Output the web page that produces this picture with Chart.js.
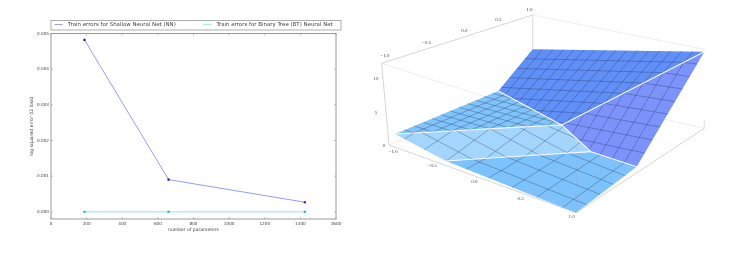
<!DOCTYPE html>
<html>
<head>
<meta charset="utf-8">
<title>Train errors and surface</title>
<script src="https://cdn.jsdelivr.net/npm/chart.js@4"></script>
<style>
    html, body { margin: 0; padding: 0; background: #fff; overflow: hidden; }
    canvas { position: absolute; top: 0; filter: blur(0.35px); }
    #errorChart { left: 0; }
    #surfaceChart { left: 370px; }
</style>
</head>
<body>
<canvas id="errorChart" width="360" height="253"></canvas>
<canvas id="surfaceChart" width="377" height="253"></canvas>
<script>
// LEFT CHART DATA ------------------------------------------------------------
const paramCounts = [188, 660, 1425];
const shallowErrors = [0.00482, 0.000905, 0.00027];
const treeErrors = [0.000002, 0.000002, 0.000002];
const xTicks = [0, 200, 400, 600, 800, 1000, 1200, 1400, 1600];
const yTicks = [0, 0.001, 0.002, 0.003, 0.004, 0.005];
const legendLabels = ['Train errors for Shallow Neural Net (NN)', 'Train errors for Binary Tree (BT) Neural Net'];

// SURFACE DATA (x, y pairs, 3 units per pixel) -------------------------------
const farPlane = [488,148, 1003,155, 575,375, 385,273];
const slopePlane = [1003,155, 800,500, 663,455, 575,375];
const upperFlat = [75,402, 385,273, 575,375, 417,383, 246,393];
const middleStrip = [75,402, 246,393, 417,383, 575,375, 663,455, 408,471, 228,483];
const lowerFlat = [228,483, 408,471, 663,455, 800,500, 618,638];

const foldLines = [
    [385,273, 575,375, 663,455, 800,500],
    [575,375, 1003,155],
    [75,402, 246,393, 417,383, 575,375],
    [228,483, 408,471, 663,455]
];

// dense mesh on the upper facets
const uMesh = [
    [132,399, 405,284, 518,148],
    [189,396, 425,295, 549,149],
    [246,393, 446,306, 580,149],
    [303,390, 467,317, 611,150],
    [360,386, 488,328, 642,150],
    [417,383, 510,340, 674,151],
    [474,380, 531,351, 706,151],
    [531,377, 553,363, 738,151],
    [580,380, 587,369, 770,152],
    [606,403, 644,340, 803,152],
    [631,426, 702,310, 836,153],
    [657,449, 761,280, 869,153],
    [690,464, 820,249, 902,154],
    [727,476, 880,218, 935,154],
    [763,488, 941,187, 969,155]
];

const vMesh = [
    [104,390, 132,399],
    [132,378, 189,396],
    [160,367, 246,393],
    [187,356, 303,390],
    [214,344, 360,386],
    [241,333, 417,383],
    [267,322, 474,380],
    [293,311, 531,377, 620,416, 824,459],
    [318,301, 561,368, 587,369, 847,420],
    [343,290, 493,331, 644,340, 870,381],
    [368,280, 426,295, 702,310, 893,342],
    [394,262, 761,280, 915,305],
    [418,233, 820,249, 937,267],
    [441,205, 880,218, 959,230],
    [465,176, 941,187, 981,192]
];

// coarser mesh on the two lower facets
const lowerU = [
    [103,417, 132,399],
    [163,449, 246,393],
    [228,483, 360,386],
    [289,507, 348,475, 474,380],
    [356,534, 468,467, 580,380],
    [427,562, 588,460, 631,426],
    [500,591, 690,464],
    [578,622, 763,488]
];
const lowerV = [
    [156,398, 308,478, 650,614],
    [259,392, 409,471, 690,583],
    [360,386, 508,465, 730,553],
    [448,382, 595,460, 765,527]
];

const boxLines = [
    [488,45, 488,148],
    [488,45, 1005,148],
    [35,190, 385,303],
    [57,435, 100,415],
    [885,358, 1003,385],
    [1003,360, 1003,385]
];
const axisLines = [
    [35,190, 488,45],
    [35,190, 57,435],
    [57,435, 618,638],
    [618,638, 1003,385]
];
const frontPost = [622,440, 618,638];

const frontAxisLabels = [['\u22121.0',70,455], ['\u22120.5',187,498], ['0.0',313,546], ['0.5',452,597], ['1.0',605,651]];
const backAxisLabels = [['\u22121.0',45,167], ['\u22120.5',170,128], ['0.0',283,92], ['0.5',385,60], ['1.0',478,30]];
const heightLabels = [['10',18,236], ['5',18,338], ['0',42,437]];

// LEFT CHART -----------------------------------------------------------------
const plotFrame = {
    id: 'plotFrame',
    afterDraw(chart) {
        const { ctx, chartArea: a, scales } = chart;
        ctx.save();
        ctx.strokeStyle = '#9a9a9a';
        ctx.lineWidth = 1;
        ctx.strokeRect(a.left, a.top, a.right - a.left, a.bottom - a.top);

        // small ticks pointing in, all four sides
        ctx.strokeStyle = '#888';
        ctx.lineWidth = 0.5;
        ctx.beginPath();
        xTicks.forEach(t => {
            const x = scales.x.getPixelForValue(t);
            ctx.moveTo(x, a.bottom); ctx.lineTo(x, a.bottom - 2);
            ctx.moveTo(x, a.top); ctx.lineTo(x, a.top + 2);
        });
        yTicks.forEach(t => {
            const y = scales.y.getPixelForValue(t);
            ctx.moveTo(a.left, y); ctx.lineTo(a.left + 2, y);
            ctx.moveTo(a.right, y); ctx.lineTo(a.right - 2, y);
        });
        ctx.stroke();

        // legend strip
        ctx.strokeStyle = '#9a9a9a';
        ctx.lineWidth = 0.8;
        ctx.strokeRect(51, 20.5, 290, 9.5);
        ctx.lineWidth = 0.9;
        ctx.strokeStyle = '#8f8ffb';
        ctx.beginPath(); ctx.moveTo(54.5, 24.5); ctx.lineTo(62.5, 24.5); ctx.stroke();
        ctx.strokeStyle = '#a5ecec';
        ctx.lineWidth = 1.2;
        ctx.beginPath(); ctx.moveTo(203, 24.5); ctx.lineTo(211.5, 24.5); ctx.stroke();
        ctx.fillStyle = '#444';
        ctx.font = '5.45px "DejaVu Sans"';
        ctx.textBaseline = 'middle';
        ctx.fillText(legendLabels[0], 68, 24.8);
        ctx.fillText(legendLabels[1], 216.5, 24.8);
        ctx.restore();
    }
};

new Chart(document.getElementById('errorChart'), {
    type: 'scatter',
    data: {
        datasets: [
            {
                label: legendLabels[1],
                data: paramCounts.map((p, i) => ({ x: p, y: treeErrors[i] })),
                showLine: true,
                borderColor: '#b4eeee',
                borderWidth: 1.4,
                pointStyle: 'rect',
                pointRadius: 1.5,
                pointBackgroundColor: '#12b0b0',
                pointBorderWidth: 0
            },
            {
                label: legendLabels[0],
                data: paramCounts.map((p, i) => ({ x: p, y: shallowErrors[i] })),
                showLine: true,
                borderColor: '#8f8ffb',
                borderWidth: 0.9,
                pointStyle: 'rect',
                pointRadius: 1.5,
                pointBackgroundColor: '#1010e0',
                pointBorderWidth: 0
            }
        ]
    },
    options: {
        responsive: false,
        animation: false,
        layout: { padding: { top: 33.5, right: 24, left: 29, bottom: 20 } },
        plugins: { legend: { display: false }, tooltip: { enabled: false } },
        scales: {
            x: {
                min: 0,
                max: 1600,
                afterFit(scale) { scale.height = 14; },
                afterBuildTicks(scale) { scale.ticks = xTicks.map(v => ({ value: v })); },
                grid: { display: false, drawTicks: false, tickLength: 0 },
                border: { display: false },
                ticks: { color: '#444', font: { size: 4.2, family: 'DejaVu Sans' }, padding: 2, maxRotation: 0, autoSkip: false, callback: v => String(v) },
                title: { display: true, text: 'number of parameters', color: '#444', font: { size: 4.5, family: 'DejaVu Sans' }, padding: { top: 2, bottom: 0 } }
            },
            y: {
                min: -0.0002,
                max: 0.005,
                afterFit(scale) { scale.width = 22; },
                afterBuildTicks(scale) { scale.ticks = yTicks.map(v => ({ value: v })); },
                grid: { display: false, drawTicks: false, tickLength: 0 },
                border: { display: false },
                ticks: { color: '#444', font: { size: 4.2, family: 'DejaVu Sans' }, padding: 2, autoSkip: false, callback: v => v.toFixed(3) },
                title: { display: true, text: 'log squared error (l2 loss)', color: '#444', font: { size: 4.6, family: 'DejaVu Sans' }, padding: { top: 0, bottom: 2 } }
            }
        }
    },
    plugins: [plotFrame]
});

// RIGHT CHART ----------------------------------------------------------------
function toPoints(flat) {
    const points = [];
    for (let i = 0; i < flat.length; i += 2) {
        points.push({ x: flat[i], y: flat[i + 1] });
    }
    return points;
}

function polygon(flat, color, order) {
    const points = toPoints(flat);
    points.push(points[0]);
    return { data: points, showLine: true, fill: 'shape', backgroundColor: color, borderWidth: 0, pointRadius: 0, order: order };
}

function polyline(flat, color, width, order) {
    return { data: toPoints(flat), showLine: true, fill: false, borderColor: color, borderWidth: width, pointRadius: 0, order: order };
}

const meshColor = 'rgba(35,50,85,0.6)';

const surfaceSets = [
    ...boxLines.map(l => polyline(l, '#e2e2e2', 0.6, 10)),
    ...axisLines.map(l => polyline(l, '#c4c4c4', 0.7, 9)),
    polygon(farPlane, '#5f8ff7', 8),
    polygon(slopePlane, '#7b93fb', 8),
    polygon(upperFlat, '#80c4fb', 8),
    polygon(middleStrip, '#a4d6fd', 8),
    polygon(lowerFlat, '#7dc2fb', 8),
    polyline(frontPost, 'rgba(150,170,190,0.45)', 0.6, 7),
    ...uMesh.map(l => polyline(l, meshColor, 0.55, 6)),
    ...vMesh.map(l => polyline(l, meshColor, 0.55, 6)),
    ...lowerU.map(l => polyline(l, meshColor, 0.55, 6)),
    ...lowerV.map(l => polyline(l, meshColor, 0.55, 6)),
    ...foldLines.map(l => polyline(l, '#f4f8ff', 1.1, 5))
];

const surfaceLabels = {
    id: 'surfaceLabels',
    afterDraw(chart) {
        const { ctx, scales } = chart;
        ctx.save();
        ctx.fillStyle = '#444';
        ctx.font = '5px "Liberation Serif"';
        ctx.textAlign = 'center';
        ctx.textBaseline = 'middle';
        [...frontAxisLabels, ...backAxisLabels, ...heightLabels].forEach(([text, x, y]) => {
            ctx.fillText(text, scales.x.getPixelForValue(x), scales.y.getPixelForValue(y));
        });
        ctx.restore();
    }
};

new Chart(document.getElementById('surfaceChart'), {
    type: 'scatter',
    data: { datasets: surfaceSets },
    options: {
        responsive: false,
        animation: false,
        layout: { padding: 0 },
        plugins: { legend: { display: false }, tooltip: { enabled: false } },
        scales: {
            x: { display: false, min: 0, max: 1131 },
            y: { display: false, min: 0, max: 759, reverse: true }
        }
    },
    plugins: [surfaceLabels]
});
</script>
</body>
</html>
